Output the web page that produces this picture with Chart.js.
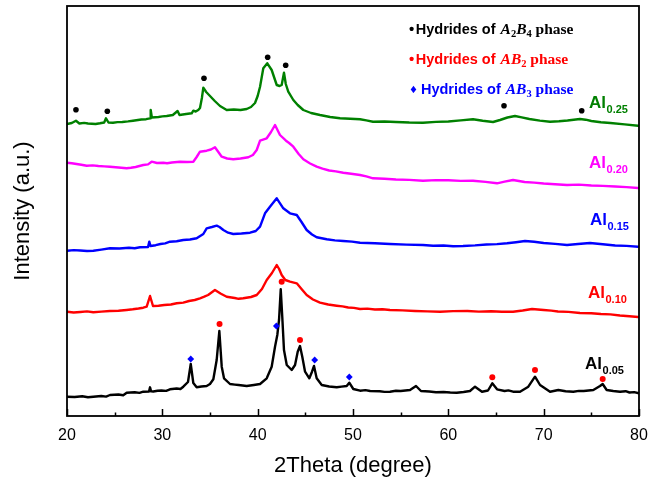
<!DOCTYPE html>
<html><head><meta charset="utf-8">
<script src="https://cdn.jsdelivr.net/npm/chart.js@4"></script>
<style>html,body{margin:0;padding:0;background:#fff}#wrap{width:648px;height:483px}</style>
</head><body><div id="wrap"><canvas id="c" width="648" height="483"></canvas></div>
<script>
// ---- data: [2theta (deg), intensity (a.u., offset per pattern)] ----
const al005 = [[20,19.3],[20.8,19],[21.6,19.8],[22.2,18.8],[22.76,19.3],[23.6,20],[24.1,19.4],[24.51,21],[25.4,21.5],[25.9,20.8],[26.26,23.3],[27.1,23.8],[27.6,23.1],[28.0,24.3],[28.6,24.5],[28.71,28.7],[28.82,24.6],[29.05,24.5],[29.5,25.3],[29.9,25.5],[30.4,25.1],[30.8,26.7],[31.5,27.5],[31.9,27],[32.2,29.3],[32.69,34],[32.98,52],[33.25,33],[33.6,28.7],[34.1,29.5],[34.65,30],[35.0,32],[35.35,36.7],[35.7,56],[35.98,85],[36.23,49.3],[36.47,37.7],[37.1,32],[37.6,31.4],[38.0,31],[38.85,30],[39.6,31],[40.25,32],[40.95,37.7],[41.47,49.3],[41.82,69.3],[42.06,81],[42.24,96],[42.42,126.7],[42.58,99.3],[42.76,66],[43.05,51],[43.57,46],[43.92,51],[44.2,64.3],[44.44,70],[44.68,59.3],[44.97,44.3],[45.42,37.7],[45.7,44.3],[45.91,50],[46.19,37.7],[46.72,31],[47.5,29.5],[48.29,28.7],[48.8,29.4],[49.34,30],[49.61,33.3],[50.03,27],[50.74,25.3],[51.3,25.9],[51.8,25],[52.8,24.8],[53.3,24.1],[53.88,24.3],[54.5,25.2],[55.0,25],[55.98,26],[56.61,30],[57.13,25],[58.0,24.5],[58.7,23.7],[59.5,24],[60.2,23.5],[60.88,23.3],[61.6,24],[62.27,25],[62.8,29.3],[63.53,24.3],[64.16,25.5],[64.61,32.7],[65.11,26.7],[65.9,25],[66.3,25.6],[66.79,24.3],[67.52,24.3],[68.39,29.3],[69.09,39.3],[69.62,31],[70.67,24.3],[71.54,26],[72.3,24.8],[73.11,24.3],[73.7,25.1],[74.2,25],[75.21,26],[75.91,30],[76.19,32],[76.61,26],[77.3,25],[78.01,24.3],[78.6,24.8],[79.0,23.5],[79.5,23.9],[80.0,22.7]];
const al010 = [[20.03,104.3],[20.7,103.5],[21.4,104],[22.1,104.6],[22.76,103.7],[23.6,104.4],[24.5,105],[25.4,105.2],[26.26,106],[26.9,106.7],[27.5,107.5],[28.0,108.3],[28.36,109.3],[28.71,120],[29.02,110],[29.6,110.3],[30.2,111],[30.9,111.5],[31.51,112.7],[32.2,113.4],[32.8,115],[33.4,116],[33.95,117.7],[34.4,119.3],[34.8,121],[35.52,126],[36.1,122.5],[36.75,119.3],[37.6,118],[38.0,117.2],[38.49,117.7],[39.3,119],[39.9,121],[40.45,127],[40.95,136],[41.5,143],[42.0,151],[42.25,147],[42.52,141],[42.9,136],[43.39,134.3],[44.1,132.7],[44.6,127],[45.14,121],[45.8,116.5],[46.54,113.3],[47.4,111.5],[48.29,110.3],[48.9,109.6],[49.5,108.5],[50.1,108.1],[50.74,107],[51.5,107.4],[52.3,106.5],[53.1,106.7],[53.88,106],[55.2,105.6],[56.5,105],[57.8,104.6],[59.13,104.3],[60.5,104.9],[62.0,105],[63.2,104.4],[64.5,104.8],[65.6,104.2],[66.79,104.3],[67.8,105.5],[68.78,107],[70.0,106],[70.8,105.4],[71.5,104.5],[72.6,104.1],[73.81,103],[75.0,102.8],[76.0,102],[77.0,101.6],[78.0,100.5],[79.0,99.8],[79.9,99]];
const al015 = [[20.03,165.3],[20.7,165.9],[21.4,165.5],[22.1,165],[22.76,165.3],[23.6,166.4],[24.51,167.7],[25.5,167.5],[26.5,168.3],[27.1,167.8],[27.66,168.7],[28.5,169],[28.63,174.3],[28.76,170],[29.3,170.8],[29.8,172],[30.3,172.6],[30.8,174.3],[31.5,174.7],[32.2,176],[32.9,176.5],[33.6,177.7],[34.3,182],[34.65,187.7],[35.2,189],[35.7,190.3],[36.0,189],[36.4,186],[36.9,183.3],[37.44,182],[38.3,182.5],[39.2,183.3],[39.8,185],[40.25,189.3],[40.77,202.7],[41.29,209.3],[42.0,217.7],[42.69,207.7],[43.39,202.7],[44.1,201],[44.6,194],[45.14,186],[45.7,181.5],[46.19,178.7],[47.24,176.7],[48.1,175.6],[48.98,175],[49.9,174.4],[50.74,173.3],[52.3,172.8],[53.88,172],[55.6,171.4],[57.34,171],[58.4,170.3],[59.5,170.5],[60.5,169.8],[61.54,170],[62.8,170.6],[64.0,171.5],[65.1,171.9],[66.16,172.7],[67.1,173.8],[68.04,175],[69.0,174.2],[70.0,173],[71.2,172.1],[72.45,171],[73.6,172],[74.86,173],[76.2,171.8],[77.5,170.5],[78.7,170.1],[79.9,169.3]];
const al020 = [[20.0,253.3],[20.5,252.7],[21.0,252],[21.5,251.3],[22.07,250.3],[22.7,250.6],[23.3,250],[23.9,249.6],[24.51,249.3],[25.4,248.5],[26.26,247.7],[26.7,248.2],[27.2,249],[28.0,251],[28.5,251.6],[28.88,254.3],[29.44,253],[30.1,253.3],[30.5,252.8],[31.0,253.5],[31.85,254.3],[32.6,254],[33.25,254.3],[33.6,259],[33.95,264.3],[34.65,265.3],[35.1,266.5],[35.52,268.7],[35.8,265],[36.23,259.3],[36.8,257.5],[37.44,256.7],[38.2,257.5],[39.02,258.7],[39.5,261],[39.9,266],[40.25,275.3],[40.95,277.7],[41.4,284],[41.82,291],[42.34,281],[42.97,275.3],[43.3,273],[43.74,269.3],[44.3,262],[44.79,256.7],[45.5,252.5],[46.19,249.3],[46.8,247.3],[47.5,245.5],[48.2,244.6],[48.98,243.3],[49.8,242.3],[50.74,241],[51.4,239.6],[52.1,237.7],[53.3,237.3],[54.5,236.5],[55.9,236.1],[57.34,235.3],[58.7,235.9],[60.0,235.8],[61.3,235.1],[62.59,235.3],[63.9,234.1],[65.11,232.7],[65.9,234.3],[66.79,236],[68.0,234],[69.0,233.4],[70.0,232.5],[71.2,231.8],[72.45,231],[73.7,231.4],[75.0,230.5],[76.2,230.1],[77.5,229.5],[78.7,228.9],[79.9,228]];
const al025 = [[20.0,292],[20.5,293],[20.94,295.3],[21.3,292.5],[21.8,293.1],[22.2,292.5],[23.0,292],[23.46,292.7],[23.9,293.5],[24.09,297.7],[24.35,293.5],[24.83,293.3],[25.3,293.9],[25.8,294],[26.4,294.6],[26.92,295.3],[27.8,296.5],[28.3,296.8],[28.71,297.7],[28.78,306],[28.9,298.5],[29.6,299],[30.0,299.6],[30.46,300],[31.1,301],[31.6,305],[31.8,301],[32.5,302],[33.08,302.7],[33.25,305.3],[33.5,304.5],[33.77,306],[33.95,308],[34.15,318],[34.3,328.3],[34.6,324],[35.0,320],[35.5,315],[36.05,310],[36.75,306],[37.5,306.5],[38.2,306],[38.85,307],[39.3,309],[39.72,313],[40.0,320],[40.25,329.3],[40.59,347.7],[41.01,352.7],[41.47,346],[41.75,338],[42.0,331],[42.3,330],[42.52,331],[42.76,343.3],[42.95,332],[43.21,324.3],[43.74,316],[44.2,311],[44.79,306],[45.6,303],[46.54,301],[47.6,299],[48.64,297.7],[49.7,297.2],[50.74,296.7],[51.4,295.6],[52.1,294.3],[53.3,294.5],[54.5,294],[55.9,293.5],[57.34,293.3],[58.7,294.1],[60.0,294.5],[61.3,295.6],[62.59,296.7],[63.6,295.2],[64.69,294],[65.42,296],[66.2,298.5],[66.99,300],[67.7,298.6],[68.5,297],[69.6,295.4],[70.67,294.3],[71.6,294.8],[72.5,295.5],[73.81,297],[74.4,296.3],[75.0,295],[76.0,293.8],[77.0,293],[78.5,291.6],[79.9,290.3]];
// phase markers
const markA2B4 = [[20.94,306.3],[24.23,304.7],[34.37,337.7],[41.05,358.7],[42.94,350.7],[65.84,310.3],[73.99,305.3]];
const markAB2 = [[36.0,92],[42.52,134.3],[44.44,76],[64.61,38.7],[69.09,46],[76.19,37]];
const markAB3 = [[32.98,57],[41.96,90],[45.98,56],[49.61,39]];
// labels / ticks
const seriesNames = ['0.05','0.10','0.15','0.20','0.25'];
const xMajorTicks = [20,30,40,50,60,70,80];
const xMinorTicks = [25,35,45,55,65,75];
const legendTexts = ['Hydrides of ','Hydrides of ','Hydrides of '];
const legendPhases = [['A','2','B','4'],['AB','2'],['AB','3']];

const colors = ['#000000','#ff0000','#0000ff','#ff00ff','#008000'];
const seriesData = [al005, al010, al015, al020, al025];
const toXY = a => a.map(p => ({x:p[0], y:p[1]}));

const datasets = seriesData.map((d,i) => ({
  label: 'Al' + seriesNames[i], data: toXY(d), showLine: true, borderColor: colors[i],
  backgroundColor: colors[i], borderWidth: 2.4, pointRadius: 0, tension: 0, order: 2,
  borderJoinStyle: 'round', borderCapStyle: 'round'
}));
datasets.push({label:'A2B4', data: toXY(markA2B4), showLine:false, pointStyle:'circle', pointRadius:2.8, backgroundColor:'#000', borderColor:'#000', borderWidth:0, order:1});
datasets.push({label:'AB2', data: toXY(markAB2), showLine:false, pointStyle:'circle', pointRadius:3, backgroundColor:'#ff0000', borderColor:'#ff0000', borderWidth:0, order:1});
datasets.push({label:'AB3', data: toXY(markAB3), showLine:false, pointStyle:'rectRot', pointRadius:3.4, backgroundColor:'#0000ff', borderColor:'#0000ff', borderWidth:0, order:1});

const SANS = '"Liberation Sans", Arial, sans-serif';
const SERIF = '"Liberation Serif", "Times New Roman", serif';

function rich(ctx, x, y, parts) {
  for (const p of parts) {
    ctx.font = p.f; ctx.fillStyle = p.c;
    ctx.fillText(p.t, x, y + (p.dy || 0));
    x += ctx.measureText(p.t).width + (p.sp || 0);
  }
}

const decor = {
  id: 'decor',
  afterDraw(chart) {
    const {ctx, chartArea: a, scales: {x, y}} = chart;
    ctx.save();
    ctx.strokeStyle = '#000'; ctx.lineWidth = 1.8;
    ctx.strokeRect(a.left, a.top, a.right - a.left, a.bottom - a.top);
    ctx.lineWidth = 1.5;
    ctx.beginPath();
    xMajorTicks.forEach(v => { const px = Math.round(x.getPixelForValue(v)) + 0.5; ctx.moveTo(px, a.bottom); ctx.lineTo(px, a.bottom - 7); });
    xMinorTicks.forEach(v => { const px = Math.round(x.getPixelForValue(v)) + 0.5; ctx.moveTo(px, a.bottom); ctx.lineTo(px, a.bottom - 3.5); });
    ctx.stroke();
    // sample labels
    ctx.textBaseline = 'alphabetic'; ctx.textAlign = 'left';
    const lab = [[74.34,47],[74.65,118],[74.86,191],[74.76,248],[74.76,308]];
    lab.forEach((L,i) => {
      rich(ctx, x.getPixelForValue(L[0]), y.getPixelForValue(L[1]), [
        {t:'Al', f:'bold 17px '+SANS, c:colors[i], sp:0.5},
        {t:seriesNames[i], f:'bold 11px '+SANS, c:colors[i], dy:5}
      ]);
    });
    // legend
    const lx = 409, ly = [34, 64, 93.5], lc = ['#000000','#ff0000','#0000ff'];
    ly.forEach((yy,i) => {
      const c = lc[i];
      const parts = [];
      if (i < 2) parts.push({t:'\u2022', f:'bold 15px '+SANS, c, sp:1.5});
      else parts.push({t:'\u2666', f:'bold 10px "DejaVu Sans", sans-serif', c, dy:-1, sp:3});
      parts.push({t:legendTexts[i], f:'bold 14.5px '+SANS, c, sp:1});
      const ph = legendPhases[i];
      for (let k = 0; k < ph.length; k += 2) {
        parts.push({t:ph[k], f:'italic bold 15.5px '+SERIF, c});
        parts.push({t:ph[k+1], f:'bold 10.5px '+SERIF, c, dy:3});
      }
      parts.push({t:' phase', f:'bold 15.5px '+SERIF, c});
      rich(ctx, lx, yy, parts);
    });
    ctx.restore();
  }
};

new Chart(document.getElementById('c'), {
  type: 'scatter',
  data: { datasets },
  options: {
    responsive: false, animation: false, devicePixelRatio: 1,
    layout: { padding: { top: 6, right: 0, left: 0, bottom: 0 } },
    plugins: { legend: { display: false }, tooltip: { enabled: false } },
    scales: {
      x: {
        type: 'linear', min: 20, max: 80, position: 'bottom',
        grid: { display: false, drawTicks: false }, border: { display: false },
        afterBuildTicks: s => { s.ticks = xMajorTicks.map(v => ({value: v})); },
        ticks: { color: '#000', font: { family: SANS, size: 16 }, padding: 10, maxRotation: 0 },
        title: { display: true, text: '2Theta (degree)', color: '#000', font: { family: SANS, size: 22 }, padding: { top: 0, bottom: 4 } },
        afterFit: s => { s.height = 67; s.paddingRight = 9; s.paddingLeft = 0; }
      },
      y: {
        type: 'linear', min: 0, max: 410,
        grid: { display: false, drawTicks: false }, border: { display: false },
        ticks: { display: false },
        title: { display: true, text: 'Intensity (a.u.)', color: '#000', font: { family: SANS, size: 22 }, padding: { top: 10, bottom: 0 } },
        afterFit: s => { s.width = 67; }
      }
    }
  },
  plugins: [decor]
});
</script>
</body></html>
